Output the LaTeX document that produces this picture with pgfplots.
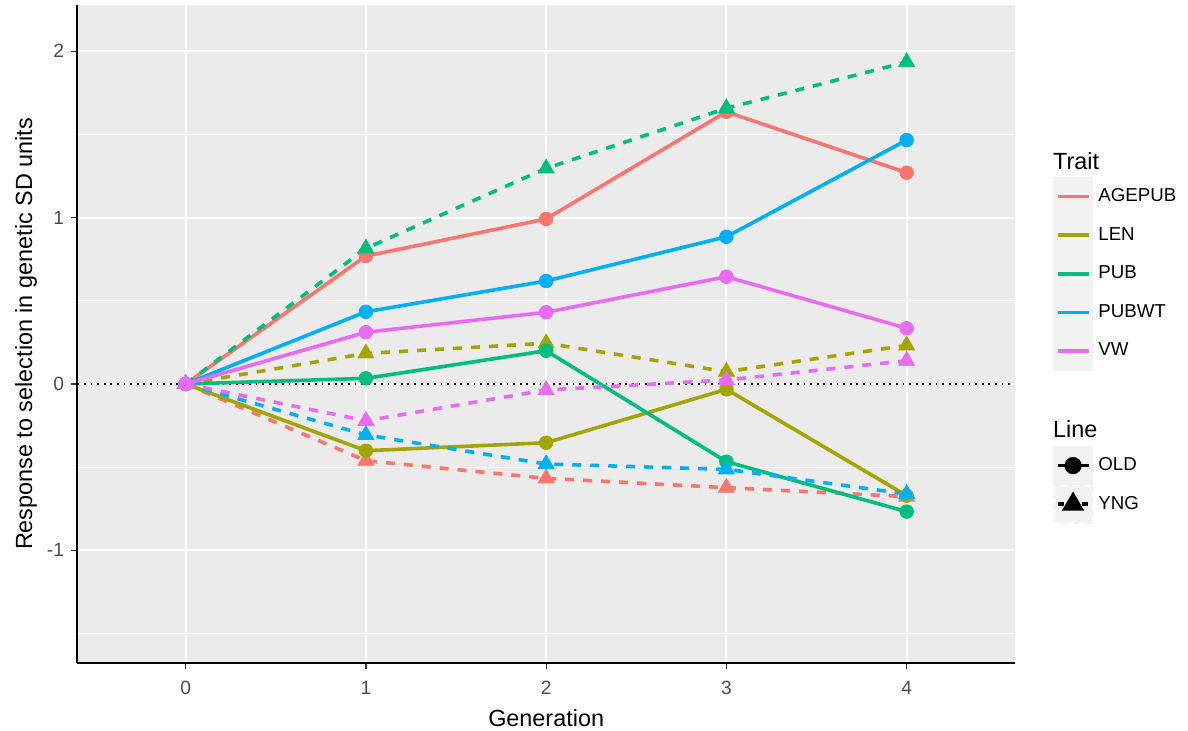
\documentclass[border=0pt]{standalone}
\usepackage{pgfplots}
\pgfplotsset{compat=1.18}
\usepackage{pgfplotstable}
\usepackage{fontspec}
\setmainfont{Liberation Sans}

\definecolor{cA}{HTML}{F8766D}
\definecolor{cL}{HTML}{A3A500}
\definecolor{cP}{HTML}{00BF7D}
\definecolor{cW}{HTML}{00B0F6}
\definecolor{cV}{HTML}{E76BF3}
\definecolor{panelbg}{HTML}{EBEBEB}
\definecolor{keybg}{HTML}{F2F2F2}
\definecolor{ticktext}{HTML}{4D4D4D}
\definecolor{tickcol}{HTML}{333333}

\pgfplotstableread{
gen old yng
0 0 0
1 0.769 -0.461
2 0.992 -0.567
3 1.636 -0.623
4 1.270 -0.677
}\tAGEPUB
\pgfplotstableread{
gen old yng
0 0 0
1 -0.401 0.184
2 -0.353 0.245
3 -0.032 0.074
4 -0.671 0.232
}\tLEN
\pgfplotstableread{
gen old yng
0 0 0
1 0.034 0.815
2 0.200 1.296
3 -0.467 1.657
4 -0.767 1.935
}\tPUB
\pgfplotstableread{
gen old yng
0 0 0
1 0.434 -0.306
2 0.619 -0.481
3 0.885 -0.513
4 1.466 -0.661
}\tPUBWT
\pgfplotstableread{
gen old yng
0 0 0
1 0.311 -0.221
2 0.431 -0.036
3 0.645 0.024
4 0.335 0.140
}\tVW

\pgfplotsset{
  oldline/.style={solid, line width=1.8pt, mark=none},
  yngline/.style={dash pattern=on 4.5pt off 4.5pt, line width=1.8pt, mark=none},
  oldmark/.style={only marks, mark=*, mark size=3.4pt},
  yngmark/.style={only marks, mark=triangle*, mark size=4.6pt},
  ggbase/.style={
    at={(0,0)}, anchor=south west,
    width=468.65pt, height=329pt, scale only axis,
    xmin=-0.6, xmax=4.6, ymin=-1.677, ymax=2.278,
  },
  legbase/.style={
    legend style={draw=none, fill=none, inner sep=0pt, outer sep=0pt,
      row sep=-0.3pt, column sep=2.5pt, nodes={inner sep=0pt},
      font=\fontsize{9.35}{11}\selectfont, text=black},
    legend cell align=left,
  },
}

\begin{document}
\begin{tikzpicture}
\useasboundingbox (-38.75pt,-33.5pt) rectangle (555.25pt,331.5pt);
\begin{axis}[
  ggbase, legbase,
  clip mode=individual,
  axis background/.style={fill=panelbg},
  axis lines=left,
  axis line style={-, black, line width=1pt},
  xtick={0,1,2,3,4},
  ytick={-1,0,1,2},
  minor ytick={-1.5,-0.5,0.5,1.5},
  grid=both,
  major grid style={white, line width=1pt},
  minor grid style={white, line width=0.6pt},
  tick align=outside,
  major tick length=3.2pt,
  minor tick length=0pt,
  tick style={tickcol, line width=0.6pt},
  /pgf/number format/assume math mode=true,
  tick label style={font=\fontsize{9.6}{11}\selectfont, text=ticktext},
  xticklabel style={yshift=-2.5pt},
  xlabel={Generation},
  ylabel={Response to selection in genetic SD units},
  every axis x label/.style={at={(axis description cs:0.5,0)}, anchor=center, yshift=-27.5pt, font=\fontsize{11.7}{14}\selectfont, text=black},
  every axis y label/.style={at={(axis description cs:-0.0549,0.5)}, anchor=center, rotate=90, font=\fontsize{11.7}{14}\selectfont, text=black},
  legend style={at={(1.0405,0.7386)}, anchor=north west},
  legend image code/.code={
    \fill[keybg] (0pt,-8.9pt) rectangle (18.5pt,8.9pt);
    \draw[#1] (1.5pt,0pt) -- (17pt,0pt);
  },
]
\addplot[forget plot, black, line width=0.8pt, dash pattern=on 0.9pt off 2.4pt] coordinates {(-0.6,0) (4.6,0)};

\addplot[forget plot, cA, oldline] table[x=gen, y=old] {\tAGEPUB};
\addplot[forget plot, cA, yngline] table[x=gen, y=yng] {\tAGEPUB};
\addplot[forget plot, cL, oldline] table[x=gen, y=old] {\tLEN};
\addplot[forget plot, cL, yngline] table[x=gen, y=yng] {\tLEN};
\addplot[forget plot, cP, oldline] table[x=gen, y=old] {\tPUB};
\addplot[forget plot, cP, yngline] table[x=gen, y=yng] {\tPUB};
\addplot[forget plot, cW, oldline] table[x=gen, y=old] {\tPUBWT};
\addplot[forget plot, cW, yngline] table[x=gen, y=yng] {\tPUBWT};
\addplot[forget plot, cV, oldline] table[x=gen, y=old] {\tVW};
\addplot[forget plot, cV, yngline] table[x=gen, y=yng] {\tVW};

\addplot[forget plot, cA, oldmark] table[x=gen, y=old] {\tAGEPUB};
\addplot[forget plot, cA, yngmark] table[x=gen, y=yng] {\tAGEPUB};
\addplot[forget plot, cL, oldmark] table[x=gen, y=old] {\tLEN};
\addplot[forget plot, cL, yngmark] table[x=gen, y=yng] {\tLEN};
\addplot[forget plot, cP, oldmark] table[x=gen, y=old] {\tPUB};
\addplot[forget plot, cP, yngmark] table[x=gen, y=yng] {\tPUB};
\addplot[forget plot, cW, oldmark] table[x=gen, y=old] {\tPUBWT};
\addplot[forget plot, cW, yngmark] table[x=gen, y=yng] {\tPUBWT};
\addplot[forget plot, cV, oldmark] table[x=gen, y=old] {\tVW};
\addplot[forget plot, cV, yngmark] table[x=gen, y=yng] {\tVW};

\addlegendimage{cA, line width=1.8pt}\addlegendentry{AGEPUB}
\addlegendimage{cL, line width=1.8pt}\addlegendentry{LEN}
\addlegendimage{cP, line width=1.8pt}\addlegendentry{PUB}
\addlegendimage{cW, line width=1.8pt}\addlegendentry{PUBWT}
\addlegendimage{cV, line width=1.8pt}\addlegendentry{VW}

\node[anchor=base west, inner sep=0pt, font=\fontsize{11.7}{14}\selectfont, yshift=3.5pt] at (axis description cs:1.0405,0.7386) {Trait};
\node[anchor=base west, inner sep=0pt, font=\fontsize{11.7}{14}\selectfont, yshift=4pt] at (axis description cs:1.0405,0.3298) {Line};
\end{axis}

\begin{axis}[
  ggbase, legbase, hide axis,
  legend style={at={(1.0405,0.3298)}, anchor=north west},
  legend image code/.code={
    \fill[keybg] (0pt,-8.9pt) rectangle (18.5pt,8.9pt);
    \draw[mark repeat=2, mark phase=2, #1] plot coordinates {(1.5pt,0pt) (9.25pt,0pt) (17pt,0pt)};
  },
]
\addlegendimage{black, solid, line width=1.8pt, mark=*, mark size=3.4pt, mark options={solid}}
\addlegendentry{OLD}
\addlegendimage{black, dash pattern=on 3pt off 3pt, line width=1.8pt, mark=triangle*, mark size=4.6pt, mark options={solid}}
\addlegendentry{YNG}
\end{axis}
\end{tikzpicture}
\end{document}
